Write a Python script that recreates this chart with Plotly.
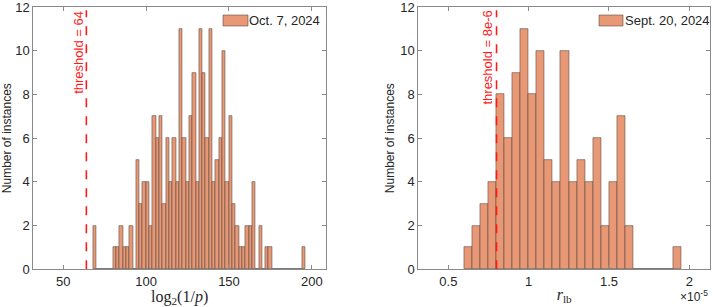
import plotly.graph_objects as go

# ---------------- data ----------------
# Left: log2(1/p), bin width 2, first bin edge at 68
left_bin_start = 68
left_bin_width = 2
left_counts = [2, 0, 0, 0, 0, 0, 1, 1, 2, 1, 1, 2, 0, 5, 3, 4, 4, 2, 7, 6,
               7, 3, 6, 4, 6, 4, 11, 6, 4, 7, 9, 4, 11, 9, 6, 11, 4, 5, 6, 10,
               4, 7, 3, 2, 1, 1, 2, 2, 4, 0, 2, 0, 1, 1, 0, 0, 0, 0, 0, 0,
               0, 0, 0, 1]
left_threshold = 64
left_label = "Oct. 7, 2024"

# Right: r_lb, bin width 5e-7, first bin edge at 6e-6
right_bin_start = 6e-6
right_bin_width = 5e-7
right_counts = [1, 2, 3, 4, 8, 6, 9, 11, 8, 10, 5, 4, 10, 4, 5, 4, 6, 2, 4, 7,
                2, 0, 0, 0, 0, 0, 1]
right_threshold = 8e-6
right_label = "Sept. 20, 2024"

left_ticks = [50, 100, 150, 200]
right_tickvals = [0.5e-5, 1e-5, 1.5e-5, 2e-5]
right_ticktext = ["0.5", "1", "1.5", "2"]
y_ticks = [0, 2, 4, 6, 8, 10, 12]

# ---------------- figure ----------------
FACE = "rgb(232,152,117)"
EDGE = "rgba(80,70,65,0.8)"
FONT = "Liberation Sans, Arial, Helvetica, sans-serif"
SERIF = "Liberation Serif, DejaVu Serif, Times New Roman, serif"
W, H = 713, 307

lx = [left_bin_start + left_bin_width * (i + 0.5) for i in range(len(left_counts))]
rx = [right_bin_start + right_bin_width * (i + 0.5) for i in range(len(right_counts))]

fig = go.Figure()
fig.add_trace(go.Bar(x=lx, y=left_counts, width=left_bin_width, name=left_label,
                     marker=dict(color=FACE, line=dict(color=EDGE, width=0.7)),
                     xaxis="x", yaxis="y"))
fig.add_trace(go.Bar(x=rx, y=right_counts, width=right_bin_width, name=right_label,
                     marker=dict(color=FACE, line=dict(color=EDGE, width=0.7)),
                     xaxis="x2", yaxis="y2"))

common_axis = dict(showline=True, linecolor="#8a8a8a", linewidth=1, mirror="ticks",
                   ticks="inside", ticklen=4, tickcolor="#8a8a8a", showgrid=False,
                   zeroline=False, ticklabeloverflow="allow", automargin=False,
                   tickfont=dict(family=FONT, size=13, color="#262626"))

ydom = [0.1228, 0.9772]
fig.update_layout(
    width=W, height=H,
    margin=dict(l=0, r=0, t=0, b=0),
    paper_bgcolor="white", plot_bgcolor="white",
    bargap=0, showlegend=False,
    xaxis=dict(domain=[0.0467, 0.4572], range=[32, 208.5], tickvals=left_ticks,
               anchor="y",
               title=dict(text="log<sub>2</sub>(1/<i>p</i>)", standoff=0,
                          font=dict(family=SERIF, size=16, color="#262626")),
               **common_axis),
    yaxis=dict(domain=ydom, range=[0, 12], tickvals=y_ticks, anchor="x",
               title=dict(text="Number of instances", standoff=3,
                          font=dict(family=FONT, size=12, color="#262626")),
               **common_axis),
    xaxis2=dict(domain=[0.5867, 0.9958], range=[0.313e-5, 2.129e-5],
                tickvals=right_tickvals, ticktext=right_ticktext, anchor="y2",
                title=dict(text="<i>r</i><sub>lb</sub>", standoff=0,
                           font=dict(family=SERIF, size=16, color="#262626")),
                **common_axis),
    yaxis2=dict(domain=ydom, range=[0, 12], tickvals=y_ticks, anchor="x2",
                title=dict(text="Number of instances", standoff=3,
                           font=dict(family=FONT, size=12, color="#262626")),
                **common_axis),
)

# threshold lines
fig.add_shape(type="line", xref="x", yref="y", x0=left_threshold, x1=left_threshold,
              y0=0, y1=11.85, line=dict(color="#ff1a1a", width=1.6, dash="dash"))
fig.add_shape(type="line", xref="x2", yref="y2", x0=right_threshold, x1=right_threshold,
              y0=0, y1=11.85, line=dict(color="#ff1a1a", width=1.6, dash="dash"))

fig.add_annotation(x=left_threshold, y=12, xref="x", yref="y", text="threshold = 64",
                   textangle=-90, showarrow=False, xanchor="center", yanchor="top",
                   xshift=-8, yshift=-2, font=dict(family=FONT, size=13, color="#ff1a1a"))
fig.add_annotation(x=right_threshold, y=12, xref="x2", yref="y2", text="threshold = 8e-6",
                   textangle=-90, showarrow=False, xanchor="center", yanchor="top",
                   xshift=-9, yshift=-2, font=dict(family=FONT, size=13, color="#ff1a1a"))

# manual legends (patch + label) in the top-right of each panel
for (px0, px1, tx, label) in [(223, 248, 249, left_label), (599, 623, 625, right_label)]:
    fig.add_shape(type="rect", xref="paper", yref="paper",
                  x0=px0 / W, x1=px1 / W, y0=1 - 26 / H, y1=1 - 15 / H,
                  fillcolor=FACE, line=dict(color=EDGE, width=0.7))
    fig.add_annotation(x=tx / W, y=1 - 20.5 / H, xref="paper", yref="paper",
                       text=label, showarrow=False, xanchor="left", yanchor="middle",
                       xshift=-2, font=dict(family=FONT, size=13, color="#262626"))

fig.add_annotation(x=0.996, y=0.035, xref="paper", yref="paper",
                   text="\u00d710<sup>-5</sup>", showarrow=False, xanchor="right",
                   yanchor="middle", font=dict(family=FONT, size=12, color="#262626"))

fig.write_html("out.html",
               config={"displayModeBar": False},
               post_script="document.body.style.margin='0px';"
                           "document.body.style.padding='0px';"
                           "document.body.style.overflow='hidden';")
